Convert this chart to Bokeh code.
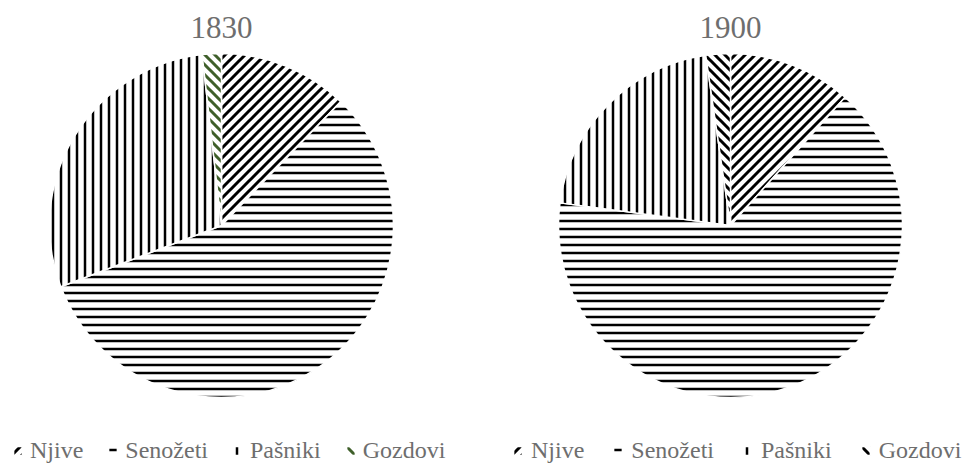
import math
from bokeh.plotting import figure
from bokeh.models import (ColumnDataSource, Range1d, Legend, LegendItem, Label,
                          CanvasTexture)
from bokeh.embed import file_html
from bokeh.resources import INLINE

# ---- data -------------------------------------------------------------
categories = ["Njive", "Senožeti", "Pašniki", "Gozdovi"]
years = ["1830", "1900"]
share_1830 = [12.2, 57.0, 29.0, 1.8]
share_1900 = [11.6, 65.5, 20.6, 2.3]

# ---- styles -----------------------------------------------------------
patterns = {
    "1830": ["diag_r_black", "-", "|", "diag_l_green"],
    "1900": ["diag_r_black", "-", "|", "diag_l_black"],
}
hatch_colors = {
    "1830": ["#000000", "#000000", "#000000", "#3f5f2a"],
    "1900": ["#000000", "#000000", "#000000", "#000000"],
}
hatch_scales = [10, 8, 8, 10]
hatch_weights = [3.0, 2.5, 2.5, 3.0]
TEXT_COLOR = "#6e6e6e"
FONT = "Liberation Serif"
TILE = 10


def diag_texture(direction, color):
    t = TILE
    if direction == "r":   # lines running lower-left to upper-right
        segs = "".join("ctx.moveTo(%d,%d);ctx.lineTo(%d,%d);" % (-t, k * t + t, k * t + t, -t)
                       for k in range(3))
    else:                  # lines running upper-left to lower-right
        segs = "".join("ctx.moveTo(%d,%d);ctx.lineTo(%d,%d);" % (-t, -t - k * t, 2 * t, 2 * t - k * t)
                       for k in (-1, 0, 1))
    code = ("ctx.canvas.width = %d; ctx.canvas.height = %d;"
            "ctx.strokeStyle = '%s'; ctx.lineWidth = 3; ctx.beginPath();%s ctx.stroke();"
            % (t, t, color, segs))
    return CanvasTexture(code=code)


textures = {
    "diag_r_black": diag_texture("r", "#000000"),
    "diag_l_green": diag_texture("l", "#3f5f2a"),
    "diag_l_black": diag_texture("l", "#000000"),
}

# ---- layout (page pixels) ---------------------------------------------
W, H = 968, 464
centers = {"1830": (221, 225), "1900": (730, 225)}
RADIUS = 172
legend_cfg = {"1830": (12, 24, 7), "1900": (512, 28, 8)}

p = figure(width=W, height=H, output_backend="svg", toolbar_location=None,
           x_range=Range1d(0, W), y_range=Range1d(0, H), min_border=0)
p.axis.visible = False
p.grid.visible = False
p.outline_line_color = None
p.background_fill_color = "white"


def to_y(py):
    return H - py


def wedge_source(year, shares):
    total = float(sum(shares))
    starts, ends = [], []
    acc = 0.0
    for s in shares:
        starts.append(math.pi / 2 - 2 * math.pi * acc / total)
        acc += s
        ends.append(math.pi / 2 - 2 * math.pi * acc / total)
    cx, cy = centers[year]
    return ColumnDataSource(dict(
        x=[cx] * len(shares), y=[to_y(cy)] * len(shares),
        start=starts, end=ends, label=categories, share=shares,
        pattern=patterns[year], hcolor=hatch_colors[year], hscale=hatch_scales,
        hweight=hatch_weights,
    ))


for year, shares in zip(years, [share_1830, share_1900]):
    src = wedge_source(year, shares)
    r = p.wedge(x="x", y="y", radius=RADIUS, start_angle="start", end_angle="end",
                direction="clock", source=src,
                fill_color="white", line_color="white", line_width=1.5,
                hatch_pattern="pattern", hatch_color="hcolor", hatch_scale="hscale",
                hatch_weight="hweight", hatch_extra=textures)

    cx, cy = centers[year]
    p.add_layout(Label(x=cx, y=to_y(27), text=year, text_align="center",
                       text_baseline="middle", text_font=FONT,
                       text_font_size="31px", text_color=TEXT_COLOR))

    items = [LegendItem(label=cat, renderers=[r], index=i)
             for i, cat in enumerate(categories)]
    lx, spacing, standoff = legend_cfg[year]
    leg = Legend(items=items, location=(lx, 0), orientation="horizontal",
                 spacing=spacing, label_standoff=standoff,
                 glyph_width=11, glyph_height=11,
                 padding=0, margin=0, border_line_color=None,
                 background_fill_alpha=0, label_text_font=FONT,
                 label_text_font_size="24px", label_text_color=TEXT_COLOR,
                 click_policy="none")
    p.add_layout(leg, "center")

open("out.html", "w").write(file_html(p, INLINE))
